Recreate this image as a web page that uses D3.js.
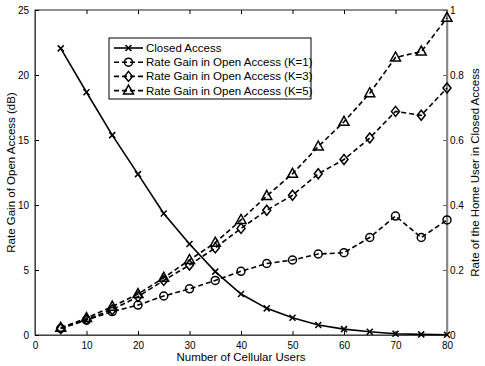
<!DOCTYPE html>
<html>
<head>
<meta charset="utf-8">
<script src="https://cdn.jsdelivr.net/npm/d3@7"></script>
<style>
  body { margin: 0; background: #fff; }
  text { font-family: "Liberation Sans", Arial, sans-serif; fill: #000; }
  .tick-label { font-size: 10px; }
  .axis-label { font-size: 11.5px; }
  .legend-text { font-size: 11.5px; }
</style>
</head>
<body>
<div id="chart"></div>
<script>
let users = [5, 10, 15, 20, 25, 30, 35, 40, 45, 50, 55, 60, 65, 70, 75, 80];
// right axis (rate of the home user)
let closedAccess = [0.882, 0.747, 0.615, 0.495, 0.374, 0.28, 0.195, 0.126, 0.082, 0.053, 0.031, 0.018, 0.010, 0.004, 0.002, 0.001];
// left axis (dB)
let gainK1 = [0.5, 1.15, 1.8, 2.3, 3.0, 3.55, 4.2, 4.9, 5.5, 5.77, 6.23, 6.33, 7.5, 9.15, 7.5, 8.85];
let gainK3 = [0.5, 1.2, 1.95, 2.95, 4.2, 5.38, 6.7, 8.2, 9.6, 10.75, 12.4, 13.5, 15.15, 17.2, 16.9, 19.0];
let gainK5 = [0.55, 1.3, 2.18, 3.15, 4.4, 5.77, 7.1, 8.85, 10.7, 12.4, 14.5, 16.4, 18.6, 21.35, 21.8, 24.4];

let xTicks = [0, 10, 20, 30, 40, 50, 60, 70, 80];
let yLeftTicks = [0, 5, 10, 15, 20, 25];
let yRightTicks = [0, 0.2, 0.4, 0.6, 0.8, 1];
let seriesNames = ["Closed Access", "Rate Gain in Open Access (K=1)", "Rate Gain in Open Access (K=3)", "Rate Gain in Open Access (K=5)"];

let width = 485, height = 366;
let mLeft = 35, mRight = 447, mTop = 10, mBottom = 335;

let svg = d3.select("#chart").append("svg")
    .attr("width", width)
    .attr("height", height);

let x = d3.scaleLinear().domain([0, 80]).range([mLeft, mRight]);
let yL = d3.scaleLinear().domain([0, 25]).range([mBottom, mTop]);
let yR = d3.scaleLinear().domain([0, 1]).range([mBottom, mTop]);

let tickLen = 4;

// frame
svg.append("rect")
    .attr("x", mLeft).attr("y", mTop)
    .attr("width", mRight - mLeft).attr("height", mBottom - mTop)
    .attr("fill", "none").attr("stroke", "#222").attr("stroke-width", 1);

// x axis (ticks inward, also on top)
let xAxis = svg.append("g").attr("transform", "translate(0," + mBottom + ")")
    .call(d3.axisBottom(x).tickValues(xTicks).tickSizeInner(-tickLen).tickSizeOuter(0).tickPadding(7));
xAxis.select(".domain").attr("stroke", "#444");
let xTop = svg.append("g").attr("transform", "translate(0," + mTop + ")")
    .call(d3.axisTop(x).tickValues(xTicks).tickSizeInner(-tickLen).tickSizeOuter(0).tickFormat(""));
xTop.select(".domain").remove();

// left axis
let yAxisL = svg.append("g").attr("transform", "translate(" + mLeft + ",0)")
    .call(d3.axisLeft(yL).tickValues(yLeftTicks).tickSizeInner(-tickLen).tickSizeOuter(0).tickPadding(6));
yAxisL.select(".domain").attr("stroke", "#444");

// right axis
let yAxisR = svg.append("g").attr("transform", "translate(" + mRight + ",0)")
    .call(d3.axisRight(yR).tickValues(yRightTicks).tickSizeInner(-tickLen).tickSizeOuter(0).tickPadding(3)
        .tickFormat(d3.format("~g")));
yAxisR.select(".domain").attr("stroke", "#888").attr("stroke-width", 1.5);
yAxisR.selectAll(".tick line").attr("stroke", "#666");

svg.selectAll(".tick text")
    .attr("class", "tick-label")
    .attr("font-size", null)
    .attr("font-family", null);

// axis labels
svg.append("text")
    .attr("class", "axis-label")
    .attr("text-anchor", "middle")
    .attr("x", (mLeft + mRight) / 2)
    .attr("y", 361)
    .text("Number of Cellular Users");

svg.append("text")
    .attr("class", "axis-label")
    .attr("text-anchor", "middle")
    .attr("transform", "translate(15," + (mTop + mBottom) / 2 + ") rotate(-90)")
    .text("Rate Gain of Open Access (dB)");

svg.append("text")
    .attr("class", "axis-label")
    .attr("text-anchor", "middle")
    .attr("transform", "translate(479," + (mTop + mBottom) / 2 + ") rotate(-90)")
    .text("Rate of the Home User in Closed Access");

// markers
function markerPath(type) {
    if (type === "x") return "M-3,-3L3,3M-3,3L3,-3";
    if (type === "circle") return d3.symbol().type(d3.symbolCircle).size(50)();
    if (type === "diamond") return "M0,-5L4,0L0,5L-4,0Z";
    if (type === "triangle") return "M0,-5.5L5,3.5L-5,3.5Z";
}

let series = [
    {name: seriesNames[0], values: closedAccess, scale: yR, marker: "x", dash: null},
    {name: seriesNames[1], values: gainK1, scale: yL, marker: "circle", dash: "5,3"},
    {name: seriesNames[2], values: gainK3, scale: yL, marker: "diamond", dash: "5,3"},
    {name: seriesNames[3], values: gainK5, scale: yL, marker: "triangle", dash: "5,3"}
];

let plot = svg.append("g");

series.forEach(s => {
    let line = d3.line()
        .x((d, i) => x(users[i]))
        .y(d => s.scale(d));
    plot.append("path")
        .datum(s.values)
        .attr("d", line)
        .attr("fill", "none")
        .attr("stroke", "#000")
        .attr("stroke-width", 1.6)
        .attr("stroke-dasharray", s.dash);
    plot.selectAll(".m-" + s.marker)
        .data(s.values)
        .enter()
        .append("path")
        .attr("class", "m-" + s.marker)
        .attr("transform", (d, i) => "translate(" + x(users[i]) + "," + s.scale(d) + ")")
        .attr("d", markerPath(s.marker))
        .attr("fill", "none")
        .attr("stroke", "#000")
        .attr("stroke-width", 1.5);
});

// legend
let legend = svg.append("g");
legend.append("rect")
    .attr("x", 109).attr("y", 38)
    .attr("width", 202).attr("height", 61)
    .attr("fill", "#fff").attr("stroke", "#000").attr("stroke-width", 1);

series.forEach((s, i) => {
    let ly = 48 + i * 14.2;
    legend.append("line")
        .attr("x1", 114).attr("x2", 143)
        .attr("y1", ly).attr("y2", ly)
        .attr("stroke", "#000").attr("stroke-width", 1.6)
        .attr("stroke-dasharray", s.dash);
    legend.append("path")
        .attr("transform", "translate(128.5," + ly + ")")
        .attr("d", markerPath(s.marker))
        .attr("fill", "none").attr("stroke", "#000").attr("stroke-width", 1.5);
    legend.append("text")
        .attr("class", "legend-text")
        .attr("x", 146).attr("y", ly + 4)
        .text(s.name);
});
</script>
</body>
</html>
